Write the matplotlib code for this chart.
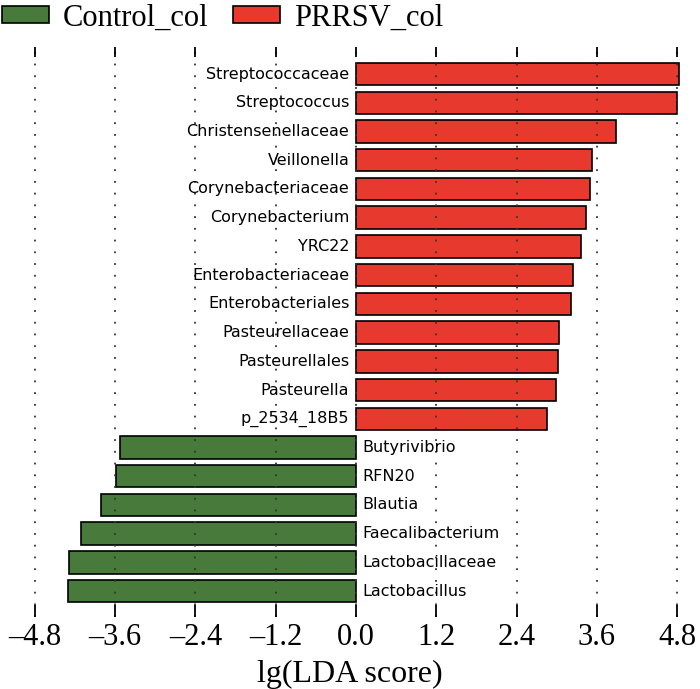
import matplotlib
matplotlib.use('Agg')
import matplotlib.pyplot as plt
from matplotlib.patches import Patch

# LDA scores, listed top to bottom as shown
taxa = ['Streptococcaceae', 'Streptococcus', 'Christensenellaceae', 'Veillonella',
        'Corynebacteriaceae', 'Corynebacterium', 'YRC22', 'Enterobacteriaceae',
        'Enterobacteriales', 'Pasteurellaceae', 'Pasteurellales', 'Pasteurella',
        'p_2534_18B5', 'Butyrivibrio', 'RFN20', 'Blautia', 'Faecalibacterium',
        'Lactobacillaceae', 'Lactobacillus']
scores = [4.83, 4.79, 3.89, 3.53, 3.50, 3.43, 3.36, 3.24, 3.21, 3.03, 3.02, 2.99,
          2.85, -3.52, -3.58, -3.81, -4.11, -4.29, -4.31]
groups = ['Control_col', 'PRRSV_col']
colors = {'Control_col': '#477a3b', 'PRRSV_col': '#e8392f'}
ticks = [-4.8, -3.6, -2.4, -1.2, 0.0, 1.2, 2.4, 3.6, 4.8]

serif = ['Liberation Serif', 'DejaVu Serif']

fig = plt.figure(figsize=(7, 6.89), dpi=100)
ax = fig.add_axes([10 / 700, 1 - 617 / 689, 680 / 700, (617 - 47) / 689])

n = len(taxa)
for i, (name, val) in enumerate(zip(taxa, scores)):
    y = n - 1 - i
    col = colors['PRRSV_col'] if val > 0 else colors['Control_col']
    ax.barh(y, val, height=0.78, color=col, edgecolor='black', linewidth=1.2, zorder=1)
    if val > 0:
        ax.text(-0.1, y, name, ha='right', va='center', fontsize=11.5, family='DejaVu Sans')
    else:
        ax.text(0.1, y, name, ha='left', va='center', fontsize=11.5, family='DejaVu Sans')

ax.set_xlim(-5.17, 4.99)
ax.set_ylim(-0.9, n - 1 + 0.94)
ax.set_yticks([])
ax.set_xticks(ticks)
ax.set_xticklabels([('%.1f' % t).replace('-', '\u2013') for t in ticks], family=serif, fontsize=22)
ax.tick_params(axis='x', top=True, direction='in', length=7, width=1.3, pad=4)
for t in ax.xaxis.get_major_ticks():
    t.tick1line.set_markersize(9)
for s in ax.spines.values():
    s.set_visible(False)
ax.set_axisbelow(False)
ax.xaxis.grid(True, color='#333333', linewidth=1.3, linestyle=(0, (1.0, 5.5)))

ax.set_xlabel('lg(LDA score)', family=serif, fontsize=23, labelpad=6)

handles = [Patch(facecolor=colors[g], edgecolor='black', linewidth=1.2, label=g) for g in groups]
fig.legend(handles=handles, loc='upper left', bbox_to_anchor=(-0.037, 1.035), ncol=2,
           frameon=False, prop={'family': serif, 'size': 22}, handlelength=1.55,
           handleheight=0.5, handletextpad=0.45, columnspacing=0.8)

plt.savefig('out.png', dpi=100)
